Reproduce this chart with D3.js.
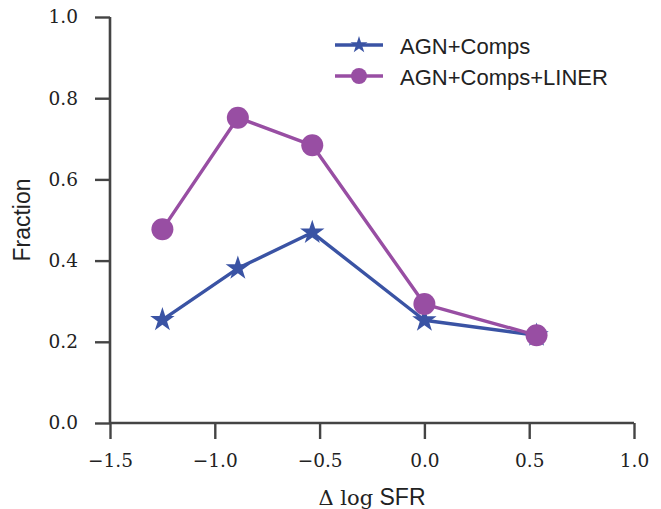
<!DOCTYPE html>
<html>
<head>
<meta charset="utf-8">
<script src="https://cdn.jsdelivr.net/npm/d3@7"></script>
<style>
  html, body { margin: 0; padding: 0; background: #fff; }
  svg { display: block; }
</style>
</head>
<body>
<svg id="chart" width="661" height="509"></svg>
<script>
// ---- data ----
const xBins = [-1.25, -0.89, -0.535, 0.0, 0.535];
const agnComps = [0.254, 0.381, 0.469, 0.253, 0.216];
const agnCompsLiner = [0.477, 0.752, 0.684, 0.293, 0.216];
const xTicks = [-1.5, -1.0, -0.5, 0.0, 0.5, 1.0];
const yTicks = [0.0, 0.2, 0.4, 0.6, 0.8, 1.0];
const seriesNames = ["AGN+Comps", "AGN+Comps+LINER"];

(function () {
// ---- layout ----
const svg = d3.select("#chart");
const pL = 110, pR = 634, pT = 17, pB = 423;
const x = d3.scaleLinear().domain([-1.5, 1.0]).range([pL, pR]);
const y = d3.scaleLinear().domain([0, 1]).range([pB, pT]);

const blue = "#3a53a4";
const purple = "#984ea3";
const axisColor = "#444";
const serif = "'DejaVu Serif', serif";
const sans = "'Liberation Sans', Arial, sans-serif";

// axes
const fmt = d3.format(".1f");
const gx = svg.append("g").attr("transform", `translate(0,${pB})`)
  .call(d3.axisBottom(x).tickValues(xTicks).tickFormat(fmt).tickSize(16).tickPadding(15));
const gy = svg.append("g").attr("transform", `translate(${pL},0)`)
  .call(d3.axisLeft(y).tickValues(yTicks).tickFormat(fmt).tickSize(15).tickPadding(17));
[gx, gy].forEach(g => {
  g.select(".domain").attr("stroke", axisColor).attr("stroke-width", 2.6);
  g.selectAll(".tick line").attr("stroke", axisColor).attr("stroke-width", 2.4);
  g.selectAll(".tick text").attr("fill", "#222").style("font-family", serif).style("font-size", "18.5px");
});
gx.select(".domain").attr("d", `M${pL},0H${pR}`);
gy.select(".domain").attr("d", `M0,${pT}V${pB}`);

// lines
const line = d3.line().x((d, i) => x(xBins[i])).y(d => y(d));
const star = d3.symbol().type(d3.symbolStar);

// AGN+Comps
svg.append("path").datum(agnComps).attr("d", line)
  .attr("fill", "none").attr("stroke", blue).attr("stroke-width", 3.4).attr("stroke-linejoin", "round");
svg.append("g").selectAll("path").data(agnComps).join("path")
  .attr("transform", (d, i) => `translate(${x(xBins[i])},${y(d)})`)
  .attr("d", star.size(185)()).attr("fill", blue);

// AGN+Comps+LINER
svg.append("path").datum(agnCompsLiner).attr("d", line)
  .attr("fill", "none").attr("stroke", purple).attr("stroke-width", 3.4).attr("stroke-linejoin", "round");
svg.append("g").selectAll("circle").data(agnCompsLiner).join("circle")
  .attr("cx", (d, i) => x(xBins[i])).attr("cy", d => y(d)).attr("r", 11).attr("fill", purple);

// legend
const legend = svg.append("g");
const rows = [
  { name: seriesNames[0], color: blue, marker: "star", cy: 45 },
  { name: seriesNames[1], color: purple, marker: "circle", cy: 76 }
];
rows.forEach(r => {
  legend.append("line").attr("x1", 335).attr("x2", 383).attr("y1", r.cy).attr("y2", r.cy)
    .attr("stroke", r.color).attr("stroke-width", 3.4);
  if (r.marker === "star") {
    legend.append("path").attr("transform", `translate(359,${r.cy})`)
      .attr("d", d3.symbol().type(d3.symbolStar).size(90)()).attr("fill", r.color);
  } else {
    legend.append("circle").attr("cx", 359).attr("cy", r.cy).attr("r", 8).attr("fill", r.color);
  }
  legend.append("text").attr("x", 400).attr("y", r.cy + 9)
    .style("font-family", sans).style("font-size", "22px").attr("fill", "#222").text(r.name);
});

// axis labels
svg.append("text")
  .attr("transform", `translate(30,220) rotate(-90)`)
  .attr("text-anchor", "middle")
  .style("font-family", sans).style("font-size", "23px").attr("fill", "#222")
  .text("Fraction");

const xl = svg.append("text").attr("x", 372).attr("y", 505).attr("text-anchor", "middle").attr("fill", "#222");
xl.append("tspan").style("font-family", serif).style("font-size", "21px").text("Δ ");
xl.append("tspan").style("font-family", serif).style("font-size", "21px").text("log");
xl.append("tspan").style("font-family", sans).style("font-size", "23px").text(" SFR");
})();
</script>
</body>
</html>
